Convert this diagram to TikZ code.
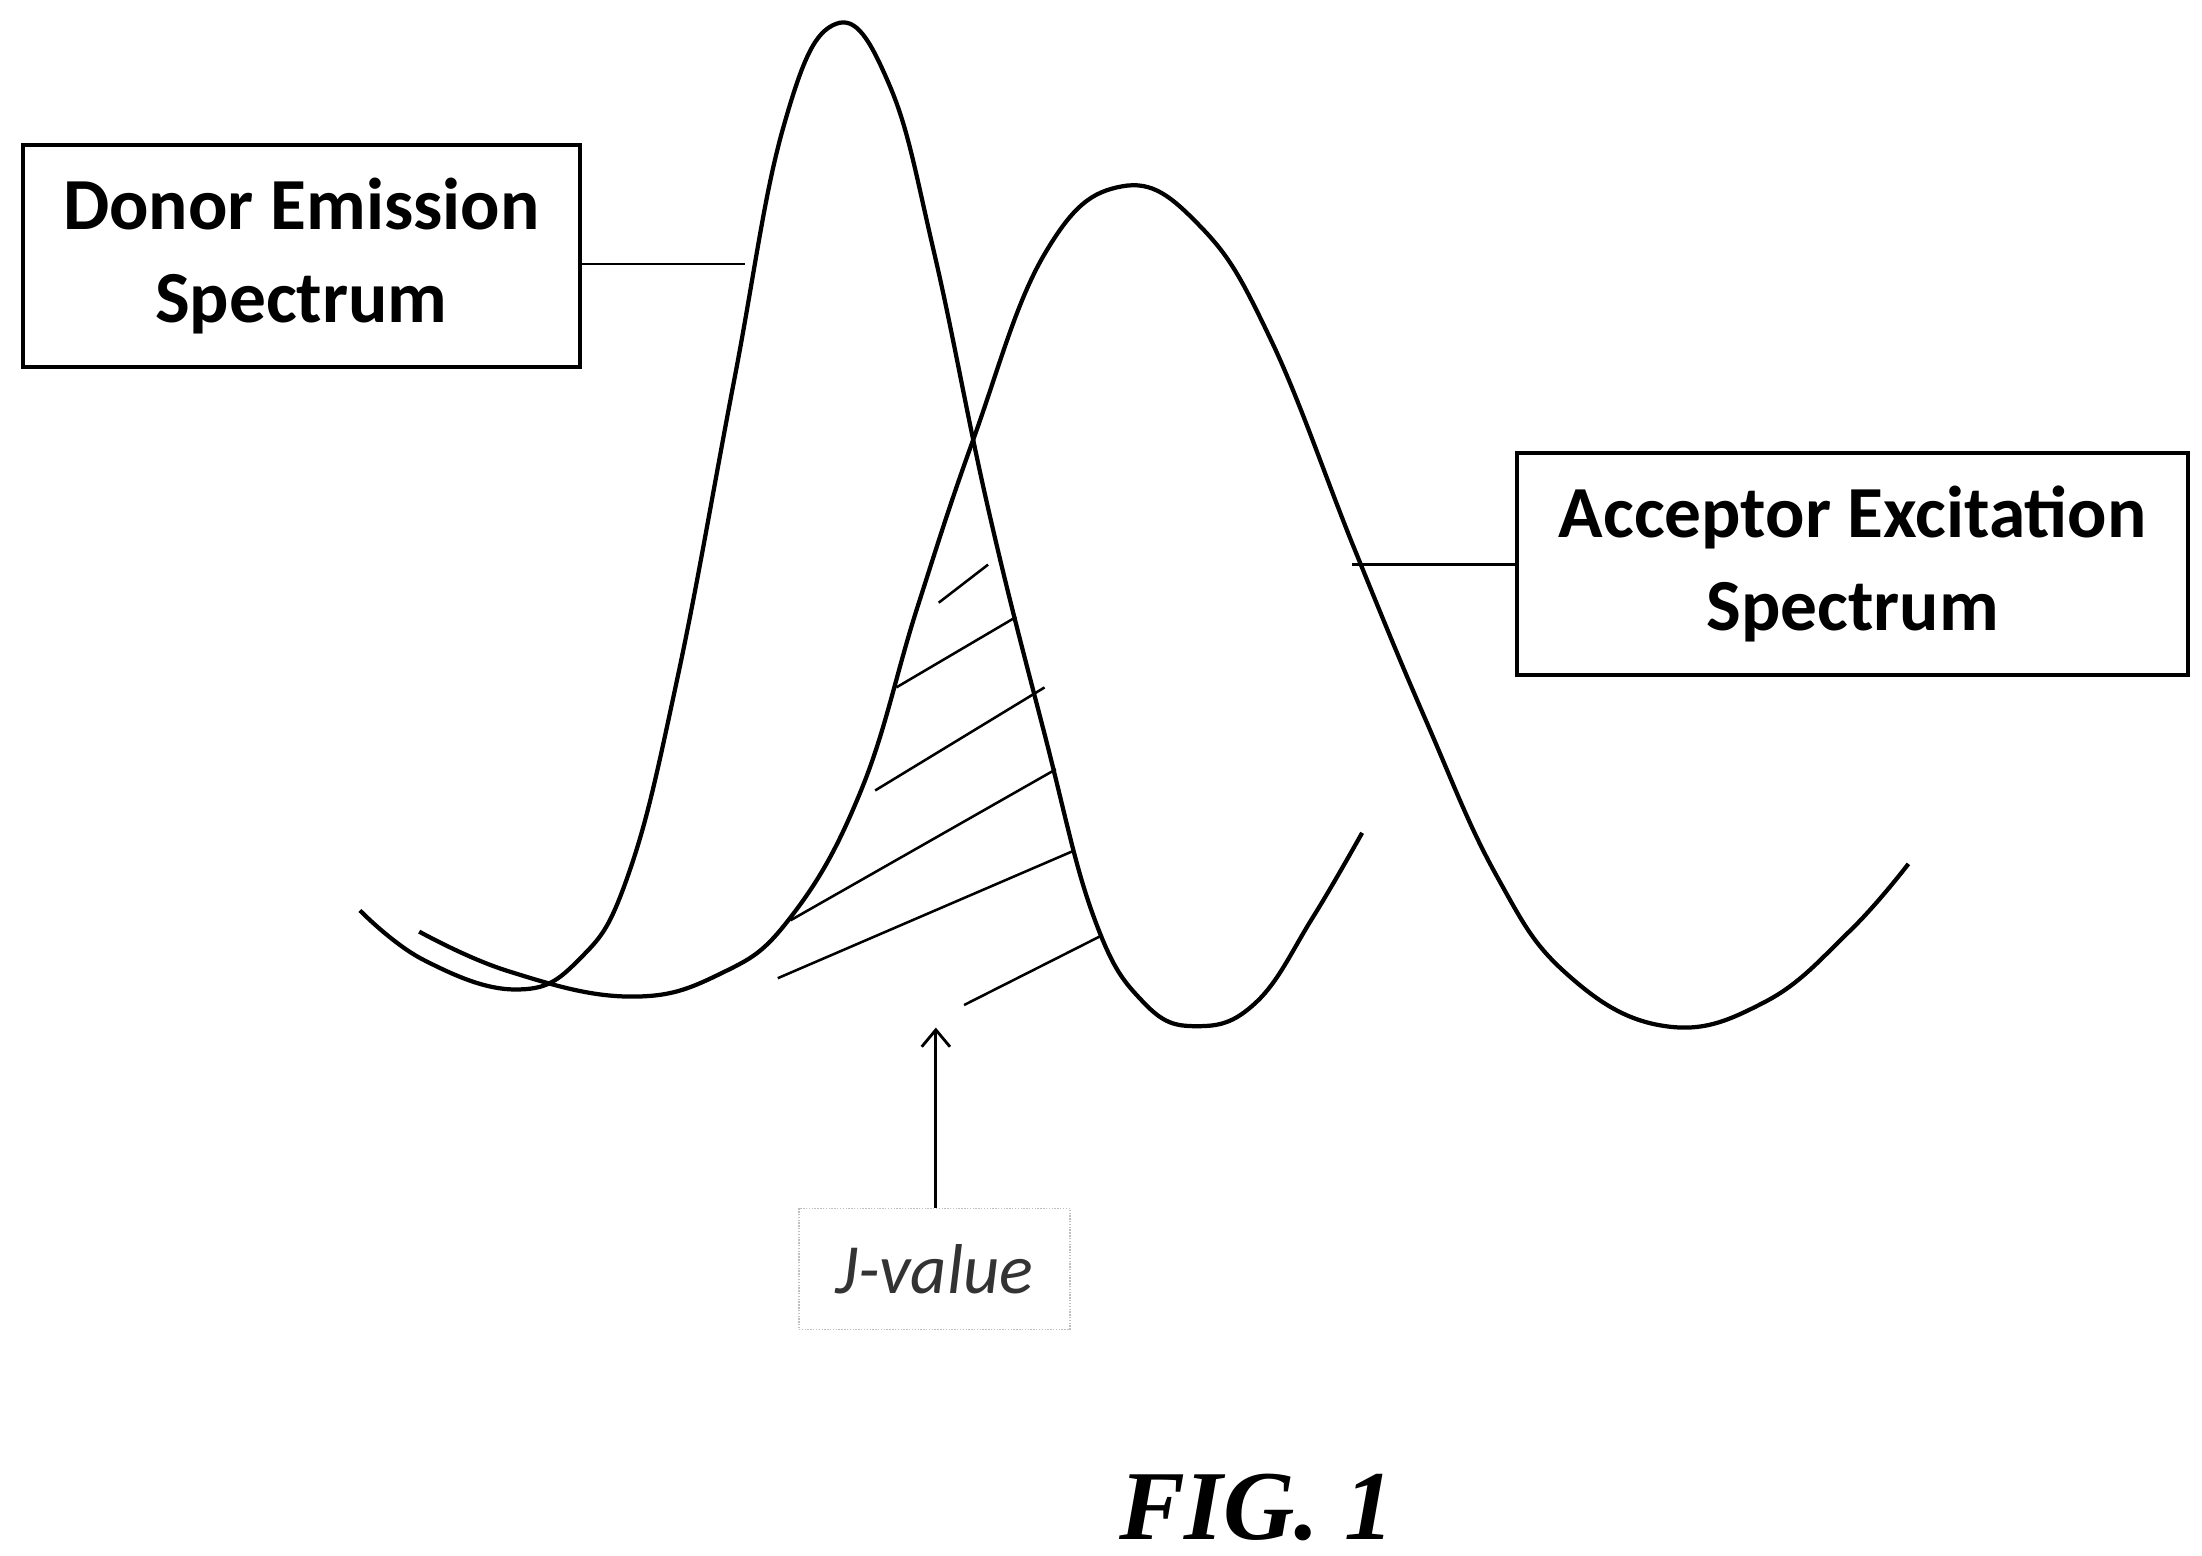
\documentclass[tikz,border=0pt]{standalone}
\usepackage{fontspec}
\usetikzlibrary{arrows.meta}
\setmainfont{Carlito}
\newfontfamily\figfont{Liberation Serif}
\begin{document}
\begin{tikzpicture}[x=1pt,y=-1pt,line width=3pt,
  labelbox/.style={draw,line width=2.8pt,align=center,font=\fontsize{52}{66}\selectfont\bfseries,inner sep=0pt},
  hatch/.style={line width=1.8pt}]
\useasboundingbox (0,0) rectangle (1560,1102);
\draw plot[smooth,tension=0.7] coordinates {(255,645) (300,680) (365,701) (410,680) (445,620) (480,480) (520,270) (555,90) (592,17) (630,60) (662,180) (700,360) (740,520) (775,650) (810,710) (848,727) (890,710) (930,650) (965,590)};
\draw plot[smooth,tension=0.7] coordinates {(297,660) (360,688) (445,706) (510,690) (560,650) (610,560) (650,430) (690,310) (740,180) (795,132) (850,160) (900,240) (960,390) (1010,510) (1060,620) (1110,690) (1180,727) (1250,710) (1310,660) (1352,612)};
\foreach \a/\b/\c/\d in {665/427/700/400, 635/487/720/437, 620/560/740/487, 560/652/748/545, 551/693/760/603, 683/712/780/663}
  \draw[hatch] (\a,\b) -- (\c,\d);
\node[labelbox,minimum width=395pt,minimum height=157pt] (don) at (213.5,181.5) {Donor Emission\\Spectrum};
\coordinate (donc) at (528,187);
\draw[line width=2pt] (don.east |- donc) -- (donc);
\node[labelbox,minimum width=475pt,minimum height=157pt] (acc) at (1312.5,399.5) {Acceptor Excitation\\Spectrum};
\coordinate (accc) at (958,400);
\draw[line width=2pt] (accc) -- (acc.west |- accc);
\node[draw=gray!50,densely dotted,line width=1pt,minimum width=192pt,minimum height=86pt,font=\fontsize{50}{56}\selectfont\itshape,text=black!80] (jv) at (662,899) {J-value};
\coordinate (jt) at (663,728);
\draw[line width=2pt,-{Straight Barb[length=12pt,width=20pt]}] (jt |- jv.north) -- (jt);
\node[font=\figfont\fontsize{70}{76}\selectfont\bfseries\itshape] (fig) at (890,1068) {FIG. 1};
\end{tikzpicture}
\end{document}
